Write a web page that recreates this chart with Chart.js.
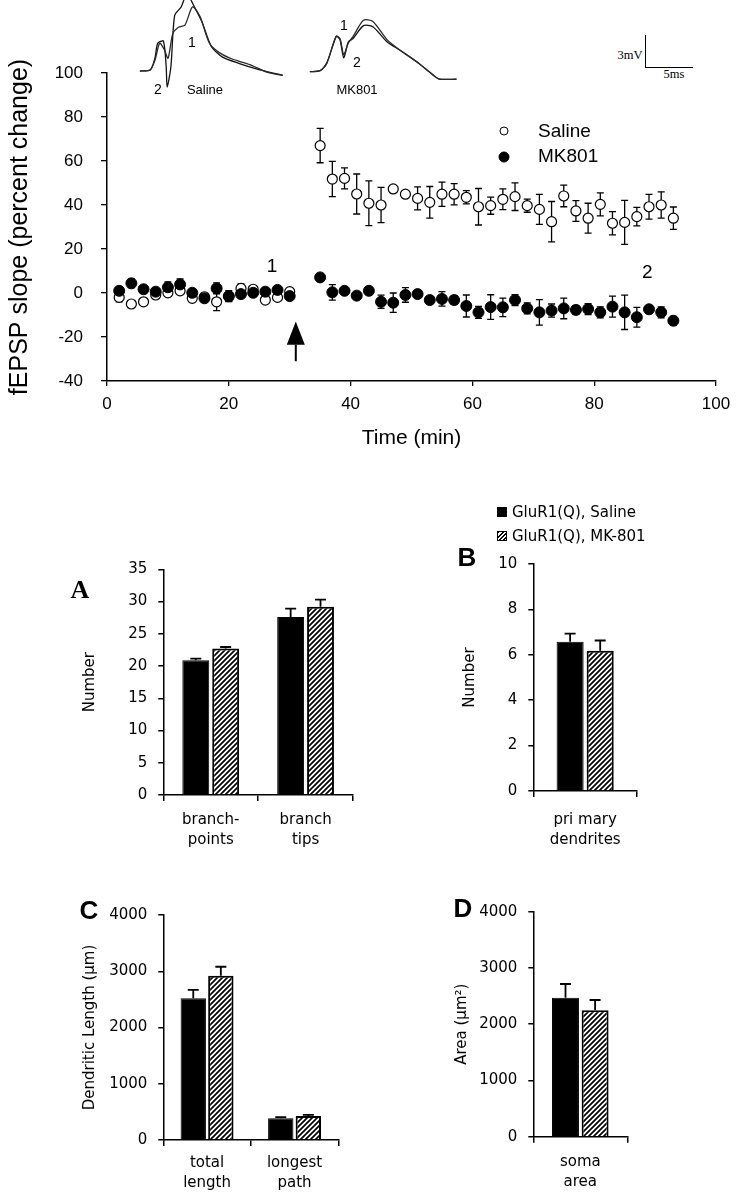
<!DOCTYPE html>
<html lang="en">
<head>
<meta charset="UTF-8">
<title>fEPSP slope and dendritic morphology</title>
<script src="https://cdn.jsdelivr.net/npm/chart.js"></script>
<style>
  body { margin: 0; background: #fff; }
  #page { position: relative; width: 745px; height: 1199px; overflow: hidden; font-family: Arial, "Liberation Sans", sans-serif; color: #000; }
  canvas { position: absolute; }
  .lbl { position: absolute; white-space: nowrap; transform: translate(-50%, -50%); line-height: 1; }
  .left { transform: translate(0, -50%); }
  .dot { position: absolute; border-radius: 50%; border: 1px solid #000; box-sizing: border-box; transform: translate(-50%, -50%); }
  .sq { position: absolute; width: 10px; height: 10px; box-sizing: border-box; border: 1px solid #000; }
</style>
</head>
<body>
<div id="page">
  <!-- inset traces -->
  <canvas id="trSaline" width="150" height="92" style="left:138px;top:0"></canvas>
  <canvas id="trMK" width="152" height="92" style="left:308px;top:0"></canvas>
  <div class="lbl" style="left:192px;top:42px;font-size:14px">1</div>
  <div class="lbl" style="left:158px;top:89px;font-size:14px">2</div>
  <div class="lbl" style="left:205px;top:89px;font-size:13px">Saline</div>
  <div class="lbl" style="left:344px;top:25px;font-size:14px">1</div>
  <div class="lbl" style="left:357px;top:62px;font-size:14px">2</div>
  <div class="lbl" style="left:357px;top:89px;font-size:13px">MK801</div>
  <!-- scale bar -->
  <div style="position:absolute;left:645px;top:35px;width:47px;height:32px;border-left:1.5px solid #000;border-bottom:1.5px solid #000"></div>
  <div class="lbl" style="left:630px;top:55px;font:12.5px 'Liberation Serif', serif">3mV</div>
  <div class="lbl" style="left:674px;top:74px;font:12.5px 'Liberation Serif', serif">5ms</div>

  <!-- time course -->
  <canvas id="ltp" width="745" height="455" style="left:0;top:0"></canvas>
  <div class="dot" style="left:504px;top:131px;width:9px;height:9px;background:#fff"></div>
  <div class="dot" style="left:504px;top:157px;width:11px;height:11px;background:#000"></div>
  <div class="lbl left" style="left:538px;top:130px;font-size:19px">Saline</div>
  <div class="lbl left" style="left:538px;top:155px;font-size:19px">MK801</div>

  <!-- morphology panels -->
  <canvas id="barA" width="310" height="320" style="left:60px;top:540px"></canvas>
  <canvas id="barB" width="230" height="320" style="left:430px;top:540px"></canvas>
  <canvas id="barC" width="300" height="309" style="left:60px;top:890px"></canvas>
  <canvas id="barD" width="220" height="309" style="left:430px;top:890px"></canvas>
  <div class="lbl" style="left:80px;top:590px;font:bold 26px 'Liberation Serif', serif">A</div>
  <div class="lbl" style="left:467px;top:557px;font-weight:bold;font-size:26px">B</div>
  <div class="lbl" style="left:89px;top:910px;font-weight:bold;font-size:26px">C</div>
  <div class="lbl" style="left:463px;top:908px;font-weight:bold;font-size:26px">D</div>
  <div class="sq" style="left:497px;top:507px;background:#000"></div>
  <div class="sq" style="left:497px;top:531px;background:repeating-linear-gradient(135deg,#000 0 1.4px,#fff 1.4px 3px)"></div>
  <div class="lbl left" style="left:512px;top:512px;font:15px 'DejaVu Sans', sans-serif">GluR1(Q), Saline</div>
  <div class="lbl left" style="left:512px;top:536px;font:15px 'DejaVu Sans', sans-serif">GluR1(Q), MK-801</div>
</div>

<script>
// ---- time course (min) ----
const times = [2, 4, 6, 8, 10, 12, 14, 16, 18, 20, 22, 24, 26, 28, 30,
  35, 37, 39, 41, 43, 45, 47, 49, 51, 53, 55, 57, 59, 61, 63,
  65, 67, 69, 71, 73, 75, 77, 79, 81, 83, 85, 87, 89, 91, 93];
const salineMean = [-2.0, -5.0, -4.0, -0.9, 0.1, 1.0, -2.4, -1.7, -4.0, -1.7, 2.1, 1.7, -3.2, -2.0, 0.6,
  67.0, 51.8, 52.1, 45.0, 40.8, 40.0, 47.3, 44.9, 43.0, 41.2, 44.9, 44.9, 43.5, 39.2, 39.7,
  42.6, 43.8, 39.7, 38.0, 32.4, 44.1, 37.3, 34.0, 40.3, 31.7, 32.1, 34.7, 39.2, 40.0, 34.0];
const salineErr = [2, 1.5, 1.5, 1, 1.5, 1, 1.5, 1.5, 4, 2, 2, 1, 1.5, 1, 1.5,
  7.8, 8, 4.8, 9.1, 10.2, 8, 1, 1, 5.2, 7.2, 5.5, 4.8, 3, 8.3, 3.9,
  4.7, 6.3, 3, 6.8, 9.2, 4.9, 4.7, 6.8, 5.2, 5.3, 10, 4.2, 5.6, 6, 5.1];
const mk801Mean = [1.0, 4.4, 1.7, 0.6, 2.6, 3.9, 0.1, -2.4, 2.1, -1.4, -0.5, 0.1, 0.6, 1.4, -1.4,
  7.1, 0.3, 1.0, -1.2, 1.0, -4.0, -4.4, -0.9, -0.5, -3.2, -2.7, -3.2, -5.9, -8.8, -6.4,
  -6.5, -3.2, -7.0, -8.8, -8.0, -7.0, -7.7, -7.3, -8.8, -6.2, -8.8, -11.0, -7.4, -8.8, -12.6];
const mk801Err = [1, 2, 1, 1, 2.5, 2.5, 1, 1, 2.5, 2.5, 1, 1.5, 1, 1, 1,
  1, 3.5, 1, 1.5, 1, 3, 4.4, 3.3, 1.5, 1.5, 3.3, 2, 5, 2.7, 5.6,
  4.2, 2.5, 2.5, 5.8, 3, 4.7, 2, 2.5, 2.5, 4.8, 7.8, 4.5, 1.5, 2.5, 2];
const xTicks = [0, 20, 40, 60, 80, 100];
const yTicks = [-40, -20, 0, 20, 40, 60, 80, 100];

// sample markers and tetanus arrow (data coords)
const sampleMarks = [{x: 27.1, y: 11.8, text: '1'}, {x: 88.7, y: 9.1, text: '2'}];
const arrowMark = {x: 31, tip: -13, base: -23.5, tail: -31};

// ---- inset traces [ms, mV] ----
const salineTrace1 = [[0,0],[1.1,0.1],[1.6,1.0],[2.1,2.6],[2.6,2.0],[3.0,1.2],[3.5,3.5],[4.1,4.1],[4.8,4.3],[5.6,6.0],[6.4,5.1],[7.4,2.6],[8.5,1.7],[9.9,1.1],[11.7,0.6],[13.5,-0.1],[15.2,-0.4]];
const salineTrace2 = [[0,0],[1.1,0.1],[1.6,1.2],[1.9,2.6],[2.5,2.8],[2.8,0.4],[2.9,-1.5],[3.3,0.4],[3.7,5.2],[4.4,6.0],[5.0,7.2],[5.8,6.0],[6.6,4.6],[7.6,2.3],[8.8,1.3],[10.6,0.7],[12.4,0.2],[14.2,-0.2],[15.2,-0.4]];
const mkTrace1 = [[0,0],[1.1,0.1],[1.8,0.8],[2.8,3.3],[3.2,3.1],[3.6,1.6],[4.1,2.7],[4.6,3.3],[5.7,4.8],[6.7,4.7],[8.2,3.0],[9.6,2.0],[11.4,0.9],[13.1,-0.3],[13.8,-0.7],[15.6,-0.7]];
const mkTrace2 = [[0,0],[1.1,0.1],[1.8,0.8],[2.8,3.3],[3.2,3.0],[3.6,1.3],[4.1,2.8],[4.6,3.1],[5.7,4.3],[6.7,4.2],[8.2,2.8],[9.6,2.0],[11.4,0.9],[13.1,-0.3],[13.8,-0.7],[15.6,-0.7]];

// ---- morphology (mean, SEM) ----
const groups = ['GluR1(Q), Saline', 'GluR1(Q), MK-801'];
const catA = [['branch-', 'points'], ['branch', 'tips']];
const salineA = [20.9, 27.6], salineAErr = [0.25, 1.3];
const mkA = [22.7, 29.2], mkAErr = [0.25, 1.1];
const catB = [['pri mary', 'dendrites']];
const salineB = [6.57], salineBErr = [0.36];
const mkB = [6.18], mkBErr = [0.45];
const catC = [['total', 'length'], ['longest', 'path']];
const salineC = [2520, 385], salineCErr = [150, 20];
const mkC = [2920, 427], mkCErr = [160, 20];
const catD = [['soma', 'area']];
const salineD = [2470], salineDErr = [245];
const mkD = [2250], mkDErr = [180];

Chart.defaults.font.family = 'Arial, "Liberation Sans", sans-serif';
Chart.defaults.color = '#000';

// two-sided error bars, drawn under the markers
const pointErrors = {
  id: 'pointErrors',
  beforeDatasetsDraw(chart) {
    const {ctx, scales: {x, y}} = chart;
    ctx.save();
    ctx.strokeStyle = '#000';
    ctx.lineWidth = 1.3;
    chart.data.datasets.forEach(ds => {
      ds.data.forEach((p, j) => {
        const px = x.getPixelForValue(p.x);
        const top = y.getPixelForValue(p.y + ds.errors[j]);
        const bot = y.getPixelForValue(p.y - ds.errors[j]);
        ctx.beginPath();
        ctx.moveTo(px, top); ctx.lineTo(px, bot);
        ctx.moveTo(px - 3.5, top); ctx.lineTo(px + 3.5, top);
        ctx.moveTo(px - 3.5, bot); ctx.lineTo(px + 3.5, bot);
        ctx.stroke();
      });
    });
    ctx.restore();
  }
};

const annotations = {
  id: 'annotations',
  afterDatasetsDraw(chart) {
    const {ctx, scales: {x, y}} = chart;
    ctx.save();
    ctx.fillStyle = '#000';
    ctx.font = '19px Arial, "Liberation Sans", sans-serif';
    ctx.textAlign = 'center';
    ctx.textBaseline = 'middle';
    sampleMarks.forEach(m => ctx.fillText(m.text, x.getPixelForValue(m.x), y.getPixelForValue(m.y)));
    const ax = x.getPixelForValue(arrowMark.x);
    const tip = y.getPixelForValue(arrowMark.tip);
    const base = y.getPixelForValue(arrowMark.base);
    const tail = y.getPixelForValue(arrowMark.tail);
    ctx.beginPath();
    ctx.moveTo(ax, tip); ctx.lineTo(ax - 9, base); ctx.lineTo(ax + 9, base);
    ctx.closePath(); ctx.fill();
    ctx.strokeStyle = '#000';
    ctx.lineWidth = 2;
    ctx.beginPath(); ctx.moveTo(ax, base); ctx.lineTo(ax, tail); ctx.stroke();
    ctx.restore();
  }
};

new Chart(document.getElementById('ltp'), {
  type: 'scatter',
  data: {
    datasets: [
      {label: 'MK801', data: times.map((t, i) => ({x: t, y: mk801Mean[i]})), errors: mk801Err,
       pointRadius: 5.5, pointBackgroundColor: '#000', pointBorderColor: '#000', pointBorderWidth: 1, order: 0},
      {label: 'Saline', data: times.map((t, i) => ({x: t, y: salineMean[i]})), errors: salineErr,
       pointRadius: 5, pointBackgroundColor: '#fff', pointBorderColor: '#000', pointBorderWidth: 1.2, order: 1}
    ]
  },
  options: {
    responsive: false, animation: false, events: [],
    layout: {padding: {top: 73, right: 29, left: 0, bottom: 4}},
    plugins: {legend: {display: false}, tooltip: {enabled: false}},
    scales: {
      x: {
        type: 'linear', min: 0, max: 100,
        afterBuildTicks: s => { s.ticks = xTicks.map(v => ({value: v})); },
        ticks: {font: {size: 17}, padding: 8},
        grid: {drawOnChartArea: false, tickLength: 5, color: '#000', lineWidth: 1.3},
        border: {color: '#000', width: 1.5},
        title: {display: true, text: 'Time (min)', font: {size: 21}, padding: {top: 0, bottom: 0}},
        afterFit: s => { s.height = 70; }
      },
      y: {
        min: -40, max: 100,
        afterBuildTicks: s => { s.ticks = yTicks.map(v => ({value: v})); },
        ticks: {font: {size: 17}, padding: 18},
        grid: {drawOnChartArea: false, tickLength: 6, color: '#000', lineWidth: 1.3},
        border: {color: '#000', width: 1.5},
        title: {display: true, text: 'fEPSP slope (percent change)', font: {size: 25}, padding: {top: 5, bottom: 0}},
        afterFit: s => { s.width = 107; }
      }
    }
  },
  plugins: [pointErrors, annotations]
});

// ---- inset traces ----
function traceChart(id, t1, t2, xMin, xMax, yMin, yMax) {
  const line = (pts, col) => ({data: pts.map(p => ({x: p[0], y: p[1]})), borderColor: col,
    borderWidth: 1.3, pointRadius: 0, tension: 0.25, showLine: true, fill: false});
  new Chart(document.getElementById(id), {
    type: 'scatter',
    data: {datasets: [line(t1, '#2a2a2a'), line(t2, '#111')]},
    options: {
      responsive: false, animation: false, events: [],
      layout: {padding: 0},
      plugins: {legend: {display: false}, tooltip: {enabled: false}},
      scales: {
        x: {display: false, min: xMin, max: xMax},
        y: {display: false, min: yMin, max: yMax}
      }
    }
  });
}
traceChart('trSaline', salineTrace1, salineTrace2, -0.2, 15.76, -1.96, 6.64);
traceChart('trMK', mkTrace1, mkTrace2, -0.2, 15.97, -1.9, 6.7);

// ---- bar panels ----
function stripes() {
  const c = document.createElement('canvas');
  c.width = 5; c.height = 5;
  const g = c.getContext('2d');
  g.fillStyle = '#fff'; g.fillRect(0, 0, 5, 5);
  g.strokeStyle = '#000'; g.lineWidth = 1.7;
  g.beginPath();
  g.moveTo(-1, 6); g.lineTo(6, -1);
  g.moveTo(-3.5, 3.5); g.lineTo(3.5, -3.5);
  g.moveTo(1.5, 8.5); g.lineTo(8.5, 1.5);
  g.stroke();
  return g.createPattern(c, 'repeat');
}
const hatch = stripes();

const barErrors = {
  id: 'barErrors',
  afterDatasetsDraw(chart) {
    const {ctx, scales: {y}} = chart;
    ctx.save();
    ctx.strokeStyle = '#000';
    ctx.lineWidth = 1.8;
    chart.data.datasets.forEach((ds, i) => {
      chart.getDatasetMeta(i).data.forEach((bar, j) => {
        const top = y.getPixelForValue(ds.data[j] + ds.errors[j]);
        ctx.beginPath();
        ctx.moveTo(bar.x, bar.y); ctx.lineTo(bar.x, top);
        ctx.moveTo(bar.x - 5.5, top); ctx.lineTo(bar.x + 5.5, top);
        ctx.stroke();
      });
    });
    ctx.restore();
  }
};

const panelFont = {family: '"DejaVu Sans", sans-serif', size: 15, lineHeight: 1.35};

function barPanel(id, cats, sal, salErr, mk, mkErr, yMax, yStep, yTitle, lay) {
  const common = {categoryPercentage: lay.cat, barPercentage: lay.bar};
  new Chart(document.getElementById(id), {
    type: 'bar',
    data: {
      labels: cats,
      datasets: [
        {label: groups[0], data: sal, errors: salErr, backgroundColor: '#000', borderColor: '#000', borderWidth: 1, ...common},
        {label: groups[1], data: mk, errors: mkErr, backgroundColor: hatch, borderColor: '#000', borderWidth: 2, ...common}
      ]
    },
    options: {
      responsive: false, animation: false, events: [],
      layout: {padding: {top: lay.top, right: lay.right, left: 0, bottom: 0}},
      plugins: {legend: {display: false}, tooltip: {enabled: false}},
      scales: {
        x: {
          grid: {offset: true, drawOnChartArea: false, tickLength: 6, color: '#000', lineWidth: 1.5},
          border: {color: '#000', width: 1.5},
          ticks: {font: panelFont, padding: lay.xPad, maxRotation: 0, autoSkip: false},
          afterFit: s => { s.height = lay.xh; }
        },
        y: {
          min: 0, max: yMax,
          ticks: {stepSize: yStep, font: panelFont, padding: 11, callback: v => String(v)},
          grid: {drawOnChartArea: false, tickLength: 5, color: '#000', lineWidth: 1.5},
          border: {color: '#000', width: 1.5},
          title: {display: true, text: yTitle, font: {family: '"DejaVu Sans", sans-serif', size: 15}, padding: {top: lay.tPad, bottom: 0}},
          afterFit: s => { s.width = 103.3; }
        }
      }
    },
    plugins: [barErrors]
  });
}

barPanel('barA', catA, salineA, salineAErr, mkA, mkAErr, 35, 5, 'Number',
  {top: 29.3, right: 17, xh: 65, xPad: 9, tPad: 21, cat: 0.63, bar: 0.9});
barPanel('barB', catB, salineB, salineBErr, mkB, mkBErr, 10, 2, 'Number',
  {top: 24, right: 23, xh: 69, xPad: 13, tPad: 31, cat: 0.58, bar: 0.9});
barPanel('barC', catC, salineC, salineCErr, mkC, mkCErr, 4000, 1000, 'Dendritic Length (\u00b5m)',
  {top: 25, right: 21.7, xh: 59, xPad: 7, tPad: 21, cat: 0.63, bar: 0.92});
barPanel('barD', catD, salineD, salineDErr, mkD, mkDErr, 4000, 1000, 'Area (\u00b5m\u00b2)',
  {top: 21.7, right: 22.7, xh: 62.3, xPad: 9, tPad: 23, cat: 0.63, bar: 0.91});
</script>
</body>
</html>
